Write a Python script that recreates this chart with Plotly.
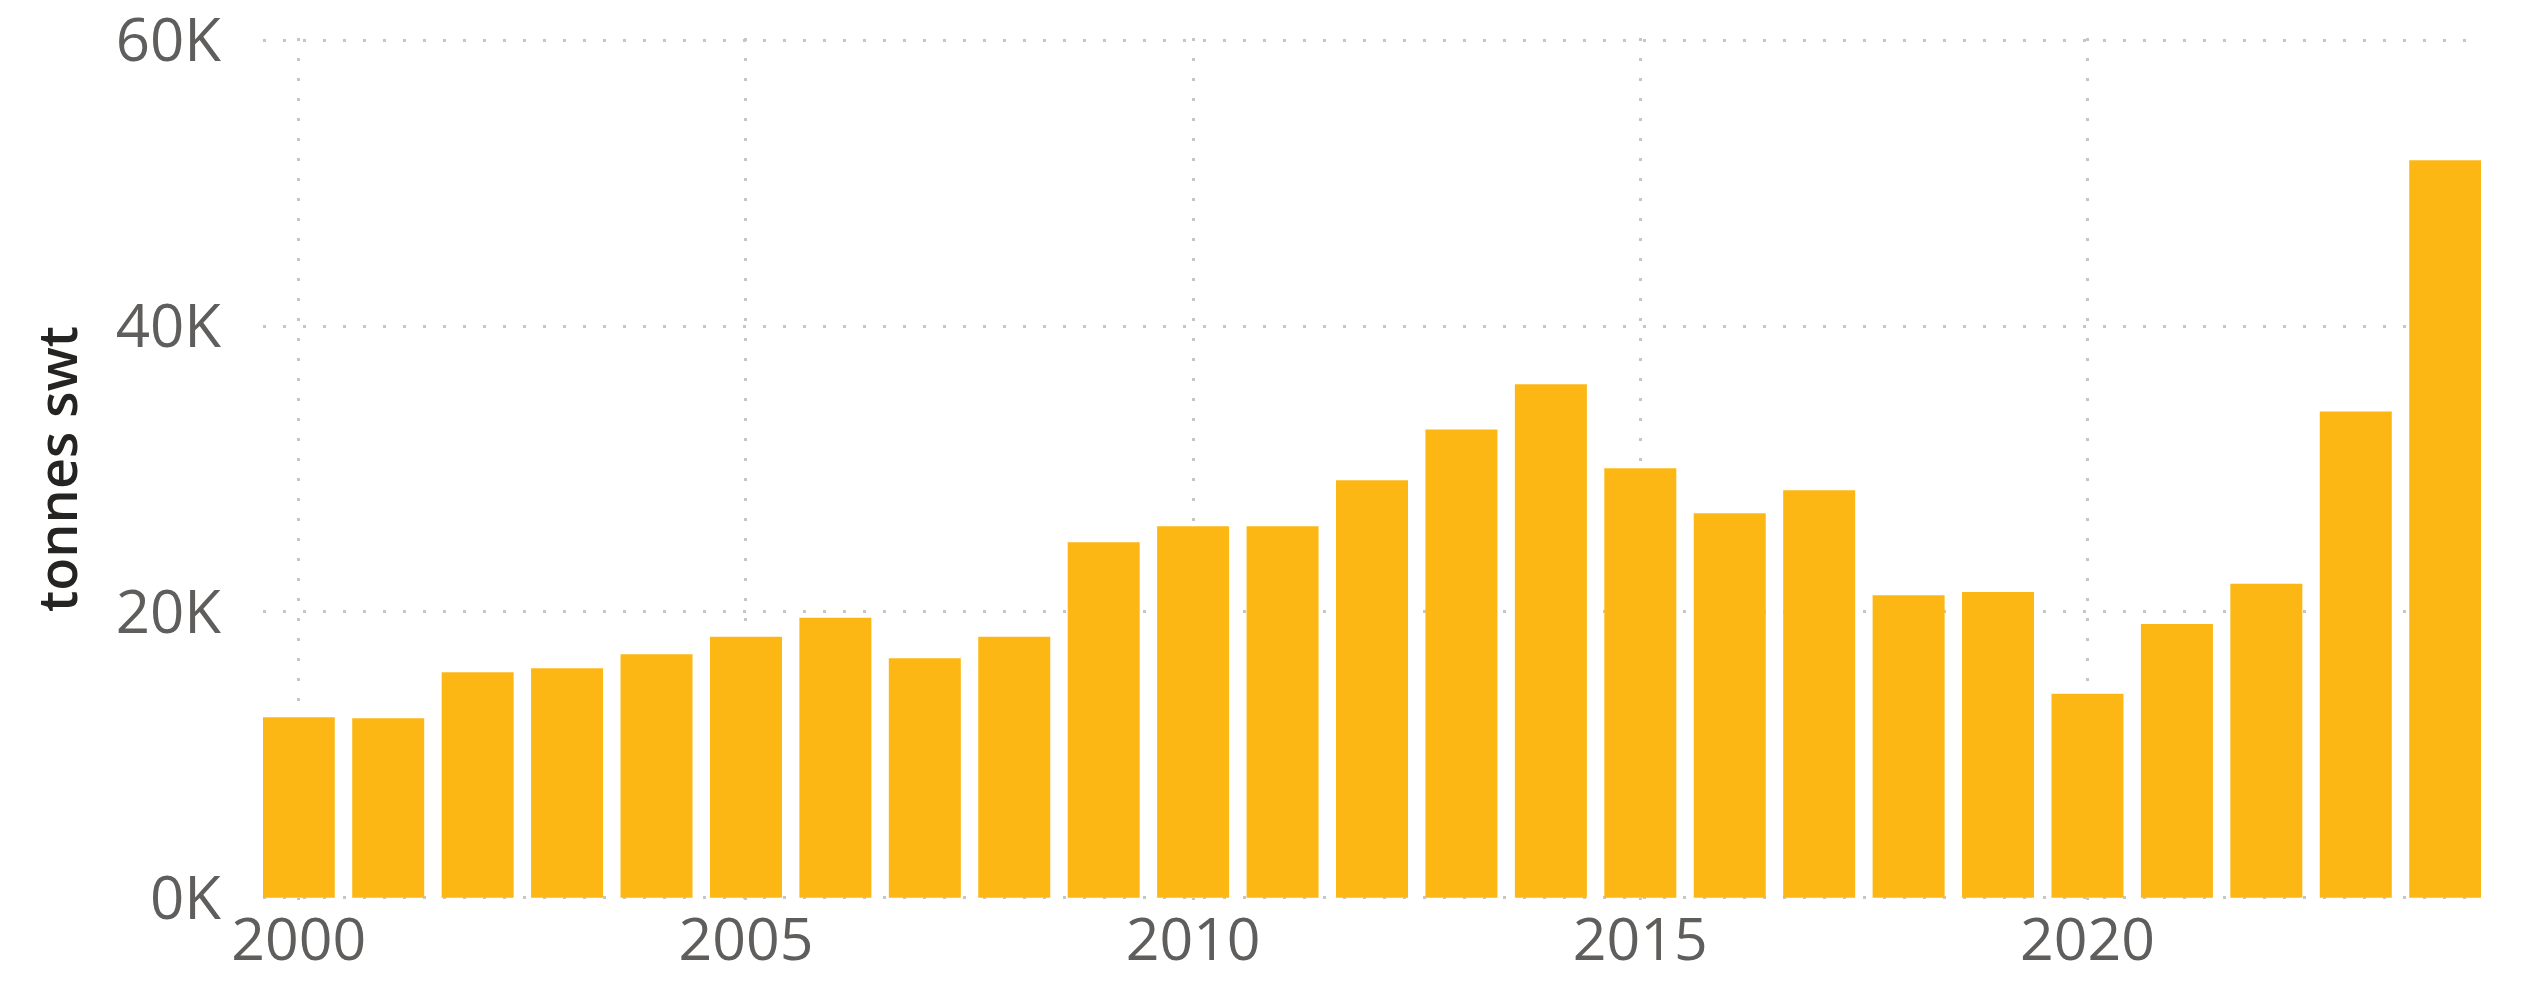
import plotly.graph_objects as go

years = list(range(2000, 2025))
tonnes = [12640, 12560, 15780, 16060, 17040, 18270, 19600, 16760, 18270,
          24870, 25990, 26000, 29210, 32770, 35920, 30050, 26900, 28510,
          21170, 21400, 14270, 19160, 21970, 34030, 51600]

x_tickvals = [2000, 2005, 2010, 2015, 2020]
x_ticktext = ["2000", "2005", "2010", "2015", "2020"]
y_tickvals = [0, 20000, 40000, 60000]
y_ticktext = ["0K", "20K", "40K", "60K"]

bar_color = "#FCB714"
grid_color = "#C8C6C4"
tick_color = "#605E5C"
title_color = "#252423"

fig = go.Figure(
    go.Bar(x=years, y=tonnes, marker=dict(color=bar_color, line=dict(width=0)))
)

fig.update_layout(
    width=2513,
    height=979,
    margin=dict(l=255, r=40, t=30, b=87),
    plot_bgcolor="white",
    paper_bgcolor="white",
    bargap=0.195,
    showlegend=False,
    font=dict(family="Open Sans", color=tick_color),
)

fig.update_xaxes(
    range=[1999.6, 2024.4],
    tickmode="array",
    tickvals=x_tickvals,
    ticktext=x_ticktext,
    tickfont=dict(size=59, color=tick_color, family="Open Sans"),
    showgrid=True,
    gridcolor=grid_color,
    gridwidth=3,
    griddash="3px,17px",
    zeroline=False,
    showline=False,
    ticks="",
    automargin=False,
    ticklabeloverflow="allow",
)

fig.update_yaxes(
    range=[-150, 60150],
    tickmode="array",
    tickvals=y_tickvals,
    ticktext=y_ticktext,
    tickfont=dict(size=60, color=tick_color, family="Open Sans"),
    ticklabelstandoff=41,
    ticklabeloverflow="allow",
    showgrid=True,
    gridcolor=grid_color,
    gridwidth=3,
    griddash="3px,17px",
    zeroline=False,
    showline=False,
    ticks="",
    automargin=False,
    title=dict(text="tonnes swt",
               font=dict(size=54, color=title_color, family="Open Sans", weight=600),
               standoff=20),
)

fig.write_html("out.html")
